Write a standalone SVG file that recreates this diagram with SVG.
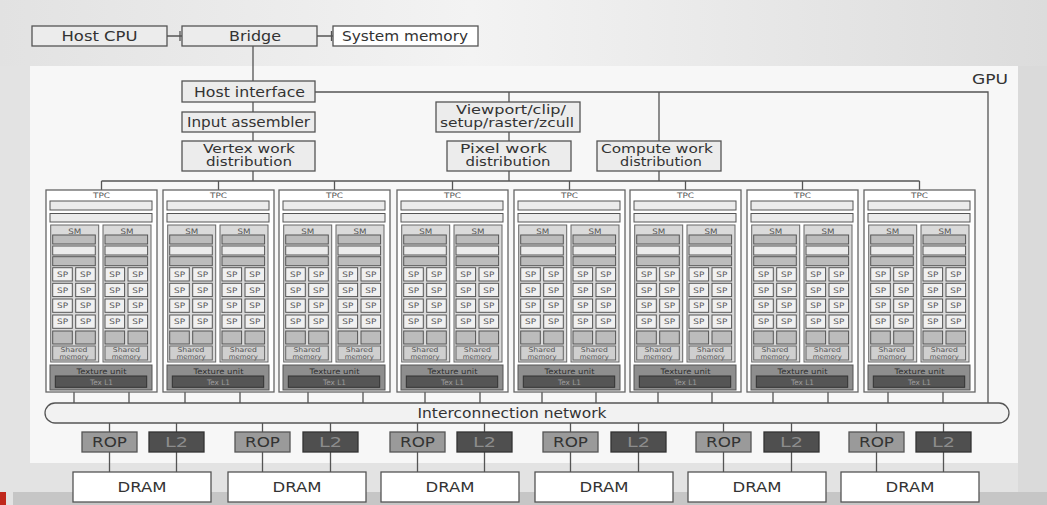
<svg xmlns="http://www.w3.org/2000/svg" xmlns:xlink="http://www.w3.org/1999/xlink" width="1047" height="505" viewBox="0 0 1047 505">
<style>
.box{fill:#ececec;stroke:#555;stroke-width:1.3}
.wbox{fill:#fff;stroke:#555;stroke-width:1.3}
.t{font-family:"DejaVu Sans","Liberation Sans",sans-serif;font-size:14px;fill:#333;text-anchor:middle}
.t2{font-family:"DejaVu Sans","Liberation Sans",sans-serif;font-size:12px;fill:#333;text-anchor:middle}
.ln{stroke:#555;stroke-width:1.3;fill:none}
.tpc{fill:#fff;stroke:#666;stroke-width:1.3}
.bar{fill:#ebebeb;stroke:#555;stroke-width:1}
.dbar{fill:#bcbcbc;stroke:#555;stroke-width:1}
.sm{fill:#dadada;stroke:#666;stroke-width:1}
.sp{fill:#f0f0f0;stroke:#555;stroke-width:1}
.sh{fill:#cfcfcf;stroke:#666;stroke-width:1}
.st{font-family:"DejaVu Sans","Liberation Sans",sans-serif;font-size:7.5px;fill:#555;text-anchor:middle}
.ss{font-family:"DejaVu Sans","Liberation Sans",sans-serif;font-size:6.6px;fill:#555;text-anchor:middle}
.tex{fill:#8e8e8e;stroke:#555;stroke-width:1}
.texl1{fill:#555;stroke:#333;stroke-width:1}
.rop{fill:#9a9a9a;stroke:#555;stroke-width:1.3}
.l2{fill:#4f4f4f;stroke:#333;stroke-width:1.3}
</style>
<defs>
<linearGradient id="bgTop" x1="0" y1="0" x2="1" y2="0">
<stop offset="0" stop-color="#e2e2e2"/>
<stop offset="0.45" stop-color="#f3f3f3"/>
<stop offset="1" stop-color="#dcdcdc"/>
</linearGradient>
<g id="smT">
<rect class="sm" x="0" y="0" width="48" height="137"/>
<text class="st" x="24" y="8.5" textLength="13" lengthAdjust="spacingAndGlyphs">SM</text>
<rect class="dbar" x="2" y="10" width="42.6" height="9"/>
<rect class="bar" x="2" y="21" width="42.6" height="9"/>
<rect class="dbar" x="2" y="31.7" width="42.6" height="9"/>
<rect class="sp" x="2" y="42.7" width="19.6" height="13.3"/><rect class="sp" x="25" y="42.7" width="19.6" height="13.3"/>
<rect class="sp" x="2" y="58.3" width="19.6" height="13.3"/><rect class="sp" x="25" y="58.3" width="19.6" height="13.3"/>
<rect class="sp" x="2" y="74" width="19.6" height="13.3"/><rect class="sp" x="25" y="74" width="19.6" height="13.3"/>
<rect class="sp" x="2" y="90" width="19.6" height="13.3"/><rect class="sp" x="25" y="90" width="19.6" height="13.3"/>
<text class="st" x="11.8" y="52" textLength="11" lengthAdjust="spacingAndGlyphs">SP</text><text class="st" x="34.8" y="52" textLength="11" lengthAdjust="spacingAndGlyphs">SP</text>
<text class="st" x="11.8" y="67.6" textLength="11" lengthAdjust="spacingAndGlyphs">SP</text><text class="st" x="34.8" y="67.6" textLength="11" lengthAdjust="spacingAndGlyphs">SP</text>
<text class="st" x="11.8" y="83.3" textLength="11" lengthAdjust="spacingAndGlyphs">SP</text><text class="st" x="34.8" y="83.3" textLength="11" lengthAdjust="spacingAndGlyphs">SP</text>
<text class="st" x="11.8" y="99.3" textLength="11" lengthAdjust="spacingAndGlyphs">SP</text><text class="st" x="34.8" y="99.3" textLength="11" lengthAdjust="spacingAndGlyphs">SP</text>
<rect class="dbar" x="2" y="106" width="19.6" height="13"/><rect class="dbar" x="25" y="106" width="19.6" height="13"/>
<rect class="sh" x="2" y="121" width="42.6" height="14"/>
<text class="ss" x="23.3" y="127.3" textLength="27" lengthAdjust="spacingAndGlyphs">Shared</text>
<text class="ss" x="23.3" y="133.6" textLength="29" lengthAdjust="spacingAndGlyphs">memory</text>
</g>
<g id="tpcT">
<rect class="tpc" x="0" y="0" width="111" height="202"/>
<text class="st" x="55.5" y="8.3" textLength="17" lengthAdjust="spacingAndGlyphs">TPC</text>
<rect class="bar" x="4" y="11" width="102" height="9"/>
<rect class="bar" x="4" y="23.5" width="102" height="8.5"/>
<use xlink:href="#smT" href="#smT" x="4.7" y="35"/>
<use xlink:href="#smT" href="#smT" x="57" y="35"/>
<rect class="tex" x="4" y="175" width="102" height="25"/>
<text class="st" x="55.5" y="183.5" style="fill:#2e2e2e" textLength="50" lengthAdjust="spacingAndGlyphs">Texture unit</text>
<rect class="texl1" x="9.3" y="186" width="91.4" height="11.3"/>
<text class="st" x="55.5" y="194.6" style="fill:#9c9c9c" textLength="23" lengthAdjust="spacingAndGlyphs">Tex L1</text>
</g>
</defs>

<g id="background">
<rect x="0" y="0" width="1047" height="505" fill="#e3e3e3"/>
<rect x="0" y="0" width="1047" height="66" fill="url(#bgTop)"/>
<rect x="1018" y="66" width="29" height="426" fill="#dadada"/>
<rect x="30" y="66" width="988" height="397" fill="#f7f7f7"/>
<rect x="13" y="492" width="1034" height="13" fill="#c6c6c6"/>
<rect x="0" y="492" width="6" height="13" fill="#c0281c"/>
<text x="990" y="84" style="font-family:'DejaVu Sans','Liberation Sans',sans-serif;font-size:14px;fill:#333;text-anchor:middle" textLength="36" lengthAdjust="spacingAndGlyphs">GPU</text>
</g>

<g id="connectors">
<path class="ln" d="M167 36H182M180 31V41M317 36H333M331.5 31V41"/>
<path class="ln" d="M253 46V81M253 102V112M253 132V141M253 171V181"/>
<path class="ln" d="M315 92H988V403"/>
<path class="ln" d="M509 92V102M509 132V141M509 171V181"/>
<path class="ln" d="M659 92V141M659 171V181"/>
<path class="ln" d="M101.5 181H919.5M101.5 181V190M218.5 181V190M334.5 181V190M452.5 181V190M569.5 181V190M685.5 181V190M802.5 181V190M919.5 181V190"/>
<path class="ln" d="M74 392V403M129 392V403M185 392V403M240 392V403M308 392V403M363 392V403M425 392V403M480 392V403M542 392V403M596 392V403M658 392V403M712 392V403M773 392V403M828 392V403M888 392V403M943 392V403"/>
<path class="ln" d="M109.5 423V432M176.5 423V432M262.5 423V432M330.5 423V432M417.5 423V432M484.5 423V432M570.5 423V432M638.5 423V432M723.5 423V432M791.5 423V432M876.5 423V432M943.5 423V432"/>
<path class="ln" d="M109.5 452V472M176.5 452V472M262.5 452V472M330.5 452V472M417.5 452V472M484.5 452V472M570.5 452V472M638.5 452V472M723.5 452V472M791.5 452V472M876.5 452V472M943.5 452V472"/>
</g>

<g id="host-cpu"><rect class="box" x="32" y="26" width="135" height="20"/><text class="t" x="99.5" y="41" textLength="76" lengthAdjust="spacingAndGlyphs">Host CPU</text></g>
<g id="bridge"><rect class="box" x="182" y="26" width="135" height="20"/><text class="t" x="255" y="41" textLength="52" lengthAdjust="spacingAndGlyphs">Bridge</text></g>
<g id="system-memory"><rect class="wbox" x="333" y="26" width="145" height="20"/><text class="t" x="405" y="41" textLength="126" lengthAdjust="spacingAndGlyphs">System memory</text></g>
<g id="host-interface"><rect class="box" x="182" y="81" width="133" height="21"/><text class="t" x="249.5" y="96.5" textLength="111" lengthAdjust="spacingAndGlyphs">Host interface</text></g>
<g id="input-assembler"><rect class="box" x="182" y="112" width="133" height="20"/><text class="t" x="248.5" y="127" textLength="123" lengthAdjust="spacingAndGlyphs">Input assembler</text></g>
<g id="vertex-work"><rect class="box" x="182" y="141" width="133" height="30"/><text class="t2" x="249" y="152.8" textLength="92" lengthAdjust="spacingAndGlyphs">Vertex work</text><text class="t2" x="249" y="166.3" textLength="86" lengthAdjust="spacingAndGlyphs">distribution</text></g>
<g id="viewport"><rect class="box" x="436" y="102" width="144" height="30"/><text class="t2" x="511" y="113.8" textLength="110" lengthAdjust="spacingAndGlyphs">Viewport/clip/</text><text class="t2" x="507" y="127.3" textLength="134" lengthAdjust="spacingAndGlyphs">setup/raster/zcull</text></g>
<g id="pixel-work"><rect class="box" x="447" y="141" width="124" height="30"/><text class="t2" x="503.5" y="152.8" textLength="87" lengthAdjust="spacingAndGlyphs">Pixel work</text><text class="t2" x="508" y="166.3" textLength="85" lengthAdjust="spacingAndGlyphs">distribution</text></g>
<g id="compute-work"><rect class="box" x="597" y="141" width="124" height="30"/><text class="t2" x="657" y="152.8" textLength="112" lengthAdjust="spacingAndGlyphs">Compute work</text><text class="t2" x="661" y="166.3" textLength="82" lengthAdjust="spacingAndGlyphs">distribution</text></g>

<g id="tpc1" transform="translate(46,190)"><use xlink:href="#tpcT" href="#tpcT"/></g>
<g id="tpc2" transform="translate(163,190)"><use xlink:href="#tpcT" href="#tpcT"/></g>
<g id="tpc3" transform="translate(279,190)"><use xlink:href="#tpcT" href="#tpcT"/></g>
<g id="tpc4" transform="translate(397,190)"><use xlink:href="#tpcT" href="#tpcT"/></g>
<g id="tpc5" transform="translate(514,190)"><use xlink:href="#tpcT" href="#tpcT"/></g>
<g id="tpc6" transform="translate(630,190)"><use xlink:href="#tpcT" href="#tpcT"/></g>
<g id="tpc7" transform="translate(747,190)"><use xlink:href="#tpcT" href="#tpcT"/></g>
<g id="tpc8" transform="translate(864,190)"><use xlink:href="#tpcT" href="#tpcT"/></g>

<g id="interconnect"><rect x="45" y="403" width="964" height="20" rx="10" ry="10" fill="#f2f2f2" stroke="#555" stroke-width="1.3"/><text class="t" x="512" y="418" textLength="189" lengthAdjust="spacingAndGlyphs">Interconnection network</text></g>

<g id="rop1"><rect class="rop" x="82" y="432" width="55" height="20"/><text class="t" x="109.5" y="447" textLength="35" lengthAdjust="spacingAndGlyphs">ROP</text></g>
<g id="l2-1"><rect class="l2" x="149" y="432" width="55" height="20"/><text class="t" x="176.5" y="447" style="fill:#8c8c8c" textLength="23" lengthAdjust="spacingAndGlyphs">L2</text></g>
<g id="rop2"><rect class="rop" x="235" y="432" width="55" height="20"/><text class="t" x="262.5" y="447" textLength="35" lengthAdjust="spacingAndGlyphs">ROP</text></g>
<g id="l2-2"><rect class="l2" x="303" y="432" width="55" height="20"/><text class="t" x="330.5" y="447" style="fill:#8c8c8c" textLength="23" lengthAdjust="spacingAndGlyphs">L2</text></g>
<g id="rop3"><rect class="rop" x="390" y="432" width="55" height="20"/><text class="t" x="417.5" y="447" textLength="35" lengthAdjust="spacingAndGlyphs">ROP</text></g>
<g id="l2-3"><rect class="l2" x="457" y="432" width="55" height="20"/><text class="t" x="484.5" y="447" style="fill:#8c8c8c" textLength="23" lengthAdjust="spacingAndGlyphs">L2</text></g>
<g id="rop4"><rect class="rop" x="543" y="432" width="55" height="20"/><text class="t" x="570.5" y="447" textLength="35" lengthAdjust="spacingAndGlyphs">ROP</text></g>
<g id="l2-4"><rect class="l2" x="611" y="432" width="55" height="20"/><text class="t" x="638.5" y="447" style="fill:#8c8c8c" textLength="23" lengthAdjust="spacingAndGlyphs">L2</text></g>
<g id="rop5"><rect class="rop" x="696" y="432" width="55" height="20"/><text class="t" x="723.5" y="447" textLength="35" lengthAdjust="spacingAndGlyphs">ROP</text></g>
<g id="l2-5"><rect class="l2" x="764" y="432" width="55" height="20"/><text class="t" x="791.5" y="447" style="fill:#8c8c8c" textLength="23" lengthAdjust="spacingAndGlyphs">L2</text></g>
<g id="rop6"><rect class="rop" x="849" y="432" width="55" height="20"/><text class="t" x="876.5" y="447" textLength="35" lengthAdjust="spacingAndGlyphs">ROP</text></g>
<g id="l2-6"><rect class="l2" x="916" y="432" width="55" height="20"/><text class="t" x="943.5" y="447" style="fill:#8c8c8c" textLength="23" lengthAdjust="spacingAndGlyphs">L2</text></g>

<g id="dram1"><rect class="wbox" x="73" y="472" width="138" height="30"/><text class="t" x="142" y="492" textLength="49" lengthAdjust="spacingAndGlyphs">DRAM</text></g>
<g id="dram2"><rect class="wbox" x="228" y="472" width="138" height="30"/><text class="t" x="297" y="492" textLength="49" lengthAdjust="spacingAndGlyphs">DRAM</text></g>
<g id="dram3"><rect class="wbox" x="381" y="472" width="138" height="30"/><text class="t" x="450" y="492" textLength="49" lengthAdjust="spacingAndGlyphs">DRAM</text></g>
<g id="dram4"><rect class="wbox" x="535" y="472" width="138" height="30"/><text class="t" x="604" y="492" textLength="49" lengthAdjust="spacingAndGlyphs">DRAM</text></g>
<g id="dram5"><rect class="wbox" x="688" y="472" width="138" height="30"/><text class="t" x="757" y="492" textLength="49" lengthAdjust="spacingAndGlyphs">DRAM</text></g>
<g id="dram6"><rect class="wbox" x="841" y="472" width="138" height="30"/><text class="t" x="910" y="492" textLength="49" lengthAdjust="spacingAndGlyphs">DRAM</text></g>
</svg>
